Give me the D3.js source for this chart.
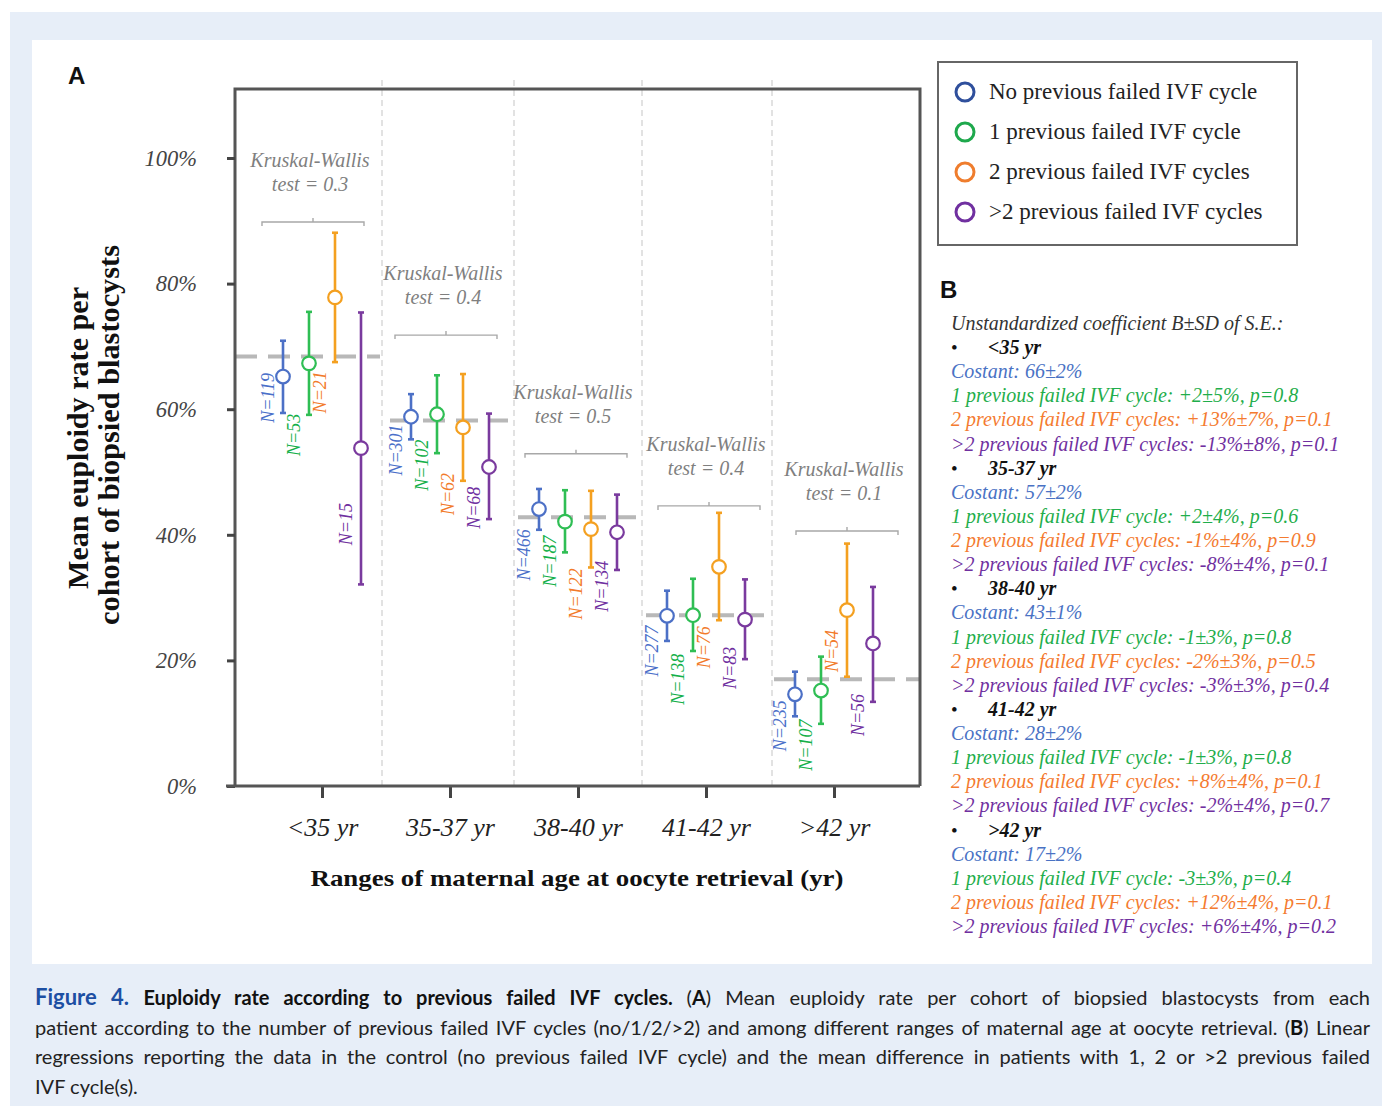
<!DOCTYPE html>
<html><head><meta charset="utf-8">
<script src="https://cdn.jsdelivr.net/npm/d3@7"></script>
<style>body{margin:0;background:#fff}svg{display:block}</style>
</head><body>
<svg id="c" width="1382" height="1108"></svg>
<script>
// ---------------- DATA ----------------
const categories = ["<35 yr", "35-37 yr", "38-40 yr", "41-42 yr", ">42 yr"];
const seriesKeys = ["none", "one", "two", "more"];
const seriesNames = ["No previous failed IVF cycle", "1 previous failed IVF cycle", "2 previous failed IVF cycles", ">2 previous failed IVF cycles"];
const yTicks = [0, 20, 40, 60, 80, 100];

const meanNone = [65.2, 58.8, 44.1, 27.1, 14.6];
const lowNone  = [59.4, 55.2, 40.8, 23.1, 11.1];
const highNone = [70.9, 62.4, 47.3, 31.1, 18.2];
const meanOne  = [67.3, 59.2, 42.1, 27.2, 15.2];
const lowOne   = [59.1, 53.0, 37.2, 21.5, 9.9];
const highOne  = [75.5, 65.4, 47.1, 33.0, 20.6];
const meanTwo  = [77.8, 57.1, 40.9, 34.9, 28.0];
const lowTwo   = [67.5, 48.6, 34.8, 26.4, 17.4];
const highTwo  = [88.1, 65.6, 47.0, 43.5, 38.6];
const meanMore = [53.8, 50.8, 40.4, 26.5, 22.7];
const lowMore  = [32.1, 42.5, 34.4, 20.2, 13.4];
const highMore = [75.4, 59.3, 46.4, 32.9, 31.7];
const groupMean = [68.4, 58.2, 42.8, 27.2, 17.0];

const nNone = [119, 301, 466, 277, 235];
const nOne  = [53, 102, 187, 138, 107];
const nTwo  = [21, 62, 122, 76, 54];
const nMore = [15, 68, 134, 83, 56];
// value (%) at which each N label is centred
const nAtNone = [61.8, 53.5, 36.8, 21.5, 9.6];
const nAtOne  = [55.9, 51.1, 35.8, 17.0, 6.5];
const nAtTwo  = [62.7, 46.5, 30.6, 22.1, 21.5];
const nAtMore = [41.7, 44.3, 31.8, 18.8, 11.3];

const kwP = [0.3, 0.4, 0.5, 0.4, 0.1];
const kwLevel = [89.8, 71.8, 52.9, 44.6, 40.6];

// Panel B regression
const regConst   = [66, 57, 43, 28, 17];
const regConstSE = [2, 2, 1, 2, 2];
const coefOne  = [2, 2, -1, -1, -3];
const seOne    = [5, 4, 3, 3, 3];
const pOne     = [0.8, 0.6, 0.8, 0.8, 0.4];
const coefTwo  = [13, -1, -2, 8, 12];
const seTwo    = [7, 4, 3, 4, 4];
const pTwo     = [0.1, 0.9, 0.5, 0.1, 0.1];
const coefMore = [-13, -8, -3, -2, 6];
const seMore   = [8, 4, 3, 4, 4];
const pMore    = [0.1, 0.1, 0.4, 0.7, 0.2];

// ---------------- DRAW ----------------
const svg = d3.select("#c");
const serif = "'Liberation Serif','DejaVu Serif',serif";
const sans = "'Liberation Sans',Arial,sans-serif";
const markColors = {none: "#4c70c6", one: "#2fbe54", two: "#f4a020", more: "#7a3a9e"};
const nColors = {none: "#4a6fc9", one: "#14b04a", two: "#f27a2a", more: "#7030a0"};
const legendColors = ["#2f4f9c", "#1ea84c", "#ef7d2d", "#7030a0"];
const bColors = {c: "#4a72c4", one: "#1fae4b", two: "#f47b30", more: "#7030a0"};

svg.append("rect").attr("x", 10).attr("y", 12).attr("width", 1372).attr("height", 1094).attr("fill", "#e7eef8");
svg.append("rect").attr("x", 32).attr("y", 40).attr("width", 1340).attr("height", 924).attr("fill", "#fff");

const L = 235, R = 920;
const y = d3.scaleLinear().domain([0, 100]).range([786, 158]);
const x = d3.scalePoint().domain(categories).range([322, 834]);
const off = d3.scalePoint().domain(seriesKeys).range([-39, 39]);
const frameTop = y(111);

const table = {
  none: {mean: meanNone, low: lowNone, high: highNone, n: nNone, at: nAtNone},
  one:  {mean: meanOne,  low: lowOne,  high: highOne,  n: nOne,  at: nAtOne},
  two:  {mean: meanTwo,  low: lowTwo,  high: highTwo,  n: nTwo,  at: nAtTwo},
  more: {mean: meanMore, low: lowMore, high: highMore, n: nMore, at: nAtMore}
};

// separators
const step = x.step();
const sepDx = [-4, 0, 0, 2];
categories.slice(1).forEach((c, i) => {
  const sx = x(c) - step / 2 + sepDx[i];
  svg.append("line").attr("x1", sx).attr("x2", sx)
    .attr("y1", 80).attr("y2", 786).attr("stroke", "#cfcfcf").attr("stroke-width", 1.2)
    .attr("stroke-dasharray", "6,4");
});

// group mean dashed lines
categories.forEach((c, i) => {
  const x1 = i === 0 ? L : x(c) - step / 2 + 4;
  const x2 = i === categories.length - 1 ? R : x(c) + step / 2 - 6;
  svg.append("line").attr("x1", x1).attr("x2", x2).attr("y1", y(groupMean[i])).attr("y2", y(groupMean[i]))
    .attr("stroke", "#b8b8b8").attr("stroke-width", 4).attr("stroke-dasharray", "22,11");
});

// frame
svg.append("path").attr("d", `M${L},786 V${frameTop} H${R} V786`).attr("fill", "none").attr("stroke", "#555").attr("stroke-width", 3);
// axes
const yAxis = d3.axisLeft(y).tickValues(yTicks).tickSize(8).tickFormat(d => d + "%");
const gy = svg.append("g").attr("transform", `translate(${L},0)`).call(yAxis);
gy.select(".domain").remove();
gy.selectAll(".tick line").attr("stroke", "#444").attr("stroke-width", 3);
gy.selectAll(".tick text").attr("x", -38).attr("dy", "0.32em").attr("font-family", serif)
  .attr("font-style", "italic").attr("font-size", 22.5).attr("fill", "#444");

const xAxis = d3.axisBottom(x).tickSize(12).tickFormat(d => d);
const gx = svg.append("g").attr("transform", "translate(0,786)").call(xAxis);
gx.select(".domain").remove();
gx.selectAll(".tick line").attr("stroke", "#444").attr("stroke-width", 3);
gx.selectAll(".tick text").attr("y", 50).attr("dy", 0).attr("font-family", serif)
  .attr("font-style", "italic").attr("font-size", 26).attr("fill", "#222");
svg.append("line").attr("x1", 226).attr("x2", R).attr("y1", 786).attr("y2", 786).attr("stroke", "#555").attr("stroke-width", 3);

// Kruskal-Wallis annotations
const kwDx = [-9, -4, -2, 3, 13];
categories.forEach((c, i) => {
  const cx = x(c) + kwDx[i], by = y(kwLevel[i]);
  svg.append("path").attr("d", `M${cx - 51},${by + 4} V${by} H${cx + 51} V${by + 4} M${cx},${by} V${by - 4}`)
    .attr("fill", "none").attr("stroke", "#a8a8a8").attr("stroke-width", 1.4);
  const t = svg.append("text").attr("text-anchor", "middle").attr("font-family", serif)
    .attr("font-style", "italic").attr("font-size", 20).attr("fill", "#7f7f7f");
  t.append("tspan").attr("x", cx - 3).attr("y", by - 55).text("Kruskal-Wallis");
  t.append("tspan").attr("x", cx - 3).attr("y", by - 31).text("test = " + kwP[i]);
});

// error bars
seriesKeys.forEach(k => {
  const d = table[k];
  categories.forEach((c, i) => {
    const cx = x(c) + off(k);
    const g = svg.append("g").attr("stroke", markColors[k]).attr("stroke-width", 2.6).attr("fill", "none");
    g.append("line").attr("x1", cx).attr("x2", cx).attr("y1", y(d.high[i])).attr("y2", y(d.low[i]));
    g.append("line").attr("x1", cx - 3).attr("x2", cx + 3).attr("y1", y(d.high[i])).attr("y2", y(d.high[i]));
    g.append("line").attr("x1", cx - 3).attr("x2", cx + 3).attr("y1", y(d.low[i])).attr("y2", y(d.low[i]));
    g.append("circle").attr("cx", cx).attr("cy", y(d.mean[i])).attr("r", 6.8).attr("fill", "#fff").attr("stroke-width", 2.2);
    svg.append("text").attr("transform", `translate(${cx - 9},${y(d.at[i])}) rotate(-90)`)
      .attr("text-anchor", "middle").attr("font-family", serif).attr("font-style", "italic")
      .attr("font-size", 18).attr("fill", nColors[k]).text("N=" + d.n[i]);
  });
});

// axis titles
svg.append("text").attr("x", 577).attr("y", 886).attr("text-anchor", "middle").attr("font-family", serif)
  .attr("font-weight", "bold").attr("font-size", 24).attr("fill", "#111")
  .attr("textLength", 533).attr("lengthAdjust", "spacingAndGlyphs")
  .text("Ranges of maternal age at oocyte retrieval (yr)");
svg.append("text").attr("transform", "translate(88,438) rotate(-90)").attr("text-anchor", "middle")
  .attr("font-family", serif).attr("font-weight", "bold").attr("font-size", 29).attr("fill", "#111")
  .attr("textLength", 302).attr("lengthAdjust", "spacingAndGlyphs").text("Mean euploidy rate per");
svg.append("text").attr("transform", "translate(119,435) rotate(-90)").attr("text-anchor", "middle")
  .attr("font-family", serif).attr("font-weight", "bold").attr("font-size", 29).attr("fill", "#111")
  .attr("textLength", 380).attr("lengthAdjust", "spacingAndGlyphs").text("cohort of biopsied blastocysts");

// panel letters
svg.append("text").attr("x", 68).attr("y", 84).attr("font-family", sans).attr("font-weight", "bold")
  .attr("font-size", 24).attr("fill", "#111").text("A");
svg.append("text").attr("x", 940).attr("y", 298).attr("font-family", sans).attr("font-weight", "bold")
  .attr("font-size", 24).attr("fill", "#111").text("B");

// legend
svg.append("rect").attr("x", 938).attr("y", 62).attr("width", 359).attr("height", 183)
  .attr("fill", "#fff").attr("stroke", "#666").attr("stroke-width", 2);
const legRow = d3.scalePoint().domain(seriesNames).range([92, 212]);
seriesNames.forEach((s, i) => {
  svg.append("circle").attr("cx", 965).attr("cy", legRow(s)).attr("r", 9).attr("fill", "none")
    .attr("stroke", legendColors[i]).attr("stroke-width", 3);
  svg.append("text").attr("x", 989).attr("y", legRow(s) + 7).attr("font-family", serif)
    .attr("font-size", 23).attr("fill", "#222").text(s);
});

// Panel B text
const fmtP = v => (v > 0 ? "+" : "-") + Math.abs(v);
const bLines = [{t: "Unstandardized coefficient B±SD of S.E.:", c: "#333", head: true}];
categories.forEach((c, i) => {
  bLines.push({t: c, c: "#111", bullet: true});
  bLines.push({t: `Costant: ${regConst[i]}±${regConstSE[i]}%`, c: bColors.c});
  bLines.push({t: `1 previous failed IVF cycle: ${fmtP(coefOne[i])}±${seOne[i]}%, p=${pOne[i]}`, c: bColors.one});
  bLines.push({t: `2 previous failed IVF cycles: ${fmtP(coefTwo[i])}%±${seTwo[i]}%, p=${pTwo[i]}`, c: bColors.two});
  bLines.push({t: `>2 previous failed IVF cycles: ${fmtP(coefMore[i])}%±${seMore[i]}%, p=${pMore[i]}`, c: bColors.more});
});
bLines.forEach((l, i) => {
  const by = 330 + i * 24.12;
  if (l.bullet) {
    svg.append("text").attr("x", 951).attr("y", by).attr("font-family", serif).attr("font-size", 19)
      .attr("fill", "#111").text("•");
    svg.append("text").attr("x", 988).attr("y", by).attr("font-family", serif).attr("font-size", 20)
      .attr("font-weight", "bold").attr("font-style", "italic").attr("fill", l.c).text(l.t);
  } else {
    svg.append("text").attr("x", 951).attr("y", by).attr("font-family", serif).attr("font-size", 20)
      .attr("font-style", "italic").attr("fill", l.c).text(l.t);
  }
});

// caption (justified by word spacing)
const capFont = "Lato,'Open Sans',sans-serif";
const capLines = [
  [["Figure 4. ", "bold", "#1d4fa3", 22], ["Euploidy rate according to previous failed IVF cycles. ", "bold", "#111"], ["(", "normal", "#222"], ["A", "bold", "#111"], [") Mean euploidy rate per cohort of biopsied blastocysts from each", "normal", "#222"]],
  [["patient according to the number of previous failed IVF cycles (no/1/2/>2) and among different ranges of maternal age at oocyte retrieval. (", "normal", "#222"], ["B", "bold", "#111"], [") Linear", "normal", "#222"]],
  [["regressions reporting the data in the control (no previous failed IVF cycle) and the mean difference in patients with 1, 2 or >2 previous failed", "normal", "#222"]],
  [["IVF cycle(s).", "normal", "#222"]]
];
capLines.forEach((line, i) => {
  const t = svg.append("text").attr("x", 35).attr("y", 1005 + i * 29.5).attr("font-family", capFont)
    .attr("font-size", 20).attr("fill", "#222");
  line.forEach(([s, w, col, fs]) => {
    const sp = t.append("tspan").attr("font-weight", w).attr("fill", col).text(s);
    if (fs) sp.attr("font-size", fs);
  });
  if (i < 3) {
    const w = t.node().getComputedTextLength();
    const full = line.map(p => p[0]).join("");
    const spaces = (full.match(/ /g) || []).length;
    if (w < 1335) t.style("word-spacing", ((1335 - w) / spaces) + "px");
    else t.attr("textLength", 1335).attr("lengthAdjust", "spacingAndGlyphs");
  }
});
</script>
</body></html>
